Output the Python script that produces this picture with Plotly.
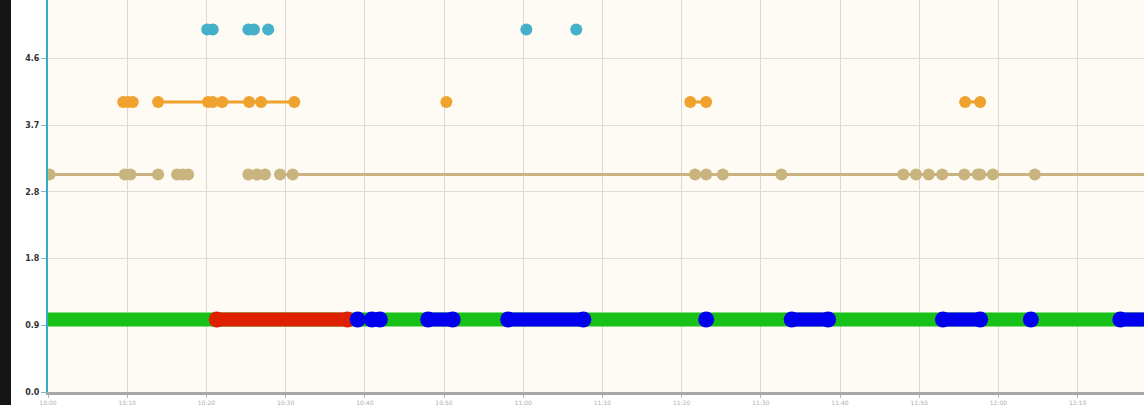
import plotly.graph_objects as go

# ---- data (x in minutes, y = state level) ----
green_x = [0, 140]
green_y = [1, 1]

red_x = [21.3, 37.8]
red_y = [1, 1]

blue_segments = [[39.1], [40.9, 41.9], [48.0, 51.1], [58.1, 67.6], [83.1],
                 [93.9, 98.5], [113.0, 117.7], [124.1], [135.4, 140]]

tan_x = [0.2, 9.7, 10.4, 13.9, 16.3, 17.0, 17.7, 25.3, 26.4, 27.4, 29.3, 30.9,
         81.7, 83.1, 85.2, 92.6, 108.0, 109.6, 111.2, 112.9, 115.7, 117.4, 117.7,
         119.3, 124.6]
tan_level = 3
tan_line_segments = [[0, 13.9], [16.3, 17.7], [25.3, 27.4], [29.3, 140]]

orange_x = [9.5, 10.1, 10.7, 13.9, 20.2, 20.8, 22.0, 25.4, 26.9, 31.1, 50.3,
            81.1, 83.1, 115.8, 117.7]
orange_level = 4
orange_line_segments = [[13.9, 31.1], [81.1, 83.1], [115.8, 117.7]]

teal_x = [20.1, 20.8, 25.3, 26.0, 27.8, 60.4, 66.7]
teal_level = 5

y_tickvals = [0, 0.92, 1.84, 2.76, 3.68, 4.6]
y_ticktext = ["0.0", "0.9", "1.8", "2.8", "3.7", "4.6"]
x_tickvals = list(range(0, 140, 10))
x_ticktext = ["%d:%02d" % (10 + v // 60, v % 60) for v in x_tickvals]

GREEN = "#17c117"
RED = "#de2000"
BLUE = "#0000ee"
TAN = "#c9b47f"
ORANGE = "#f0a22e"
TEAL = "#45b0c9"

fig = go.Figure()

def seg_xy(segs, level):
    xs, ys = [], []
    for s in segs:
        xs += s + [None]
        ys += [level] * len(s) + [None]
    return xs, ys

# green base band
fig.add_trace(go.Scatter(x=green_x, y=green_y, mode="lines",
                         line=dict(color=GREEN, width=14), hoverinfo="skip"))
# red band
fig.add_trace(go.Scatter(x=red_x, y=red_y, mode="lines+markers",
                         line=dict(color=RED, width=14),
                         marker=dict(color=RED, size=16), hoverinfo="skip"))
# blue bands
bx, by = seg_xy(blue_segments, 1)
fig.add_trace(go.Scatter(x=bx, y=by, mode="lines+markers",
                         line=dict(color=BLUE, width=14),
                         marker=dict(color=BLUE, size=16), hoverinfo="skip"))

# tan
tx, ty = seg_xy(tan_line_segments, tan_level)
fig.add_trace(go.Scatter(x=tx, y=ty, mode="lines",
                         line=dict(color=TAN, width=3), hoverinfo="skip"))
fig.add_trace(go.Scatter(x=tan_x, y=[tan_level] * len(tan_x), mode="markers",
                         marker=dict(color=TAN, size=12), hoverinfo="skip"))
# orange
ox, oy = seg_xy(orange_line_segments, orange_level)
fig.add_trace(go.Scatter(x=ox, y=oy, mode="lines",
                         line=dict(color=ORANGE, width=3), hoverinfo="skip"))
fig.add_trace(go.Scatter(x=orange_x, y=[orange_level] * len(orange_x), mode="markers",
                         marker=dict(color=ORANGE, size=12), hoverinfo="skip"))
# teal
fig.add_trace(go.Scatter(x=teal_x, y=[teal_level] * len(teal_x), mode="markers",
                         marker=dict(color=TEAL, size=12), hoverinfo="skip"))

L, B = 48, 13
plot_w = 1144 - L
fig.update_layout(
    width=1144, height=405,
    margin=dict(l=L, r=0, t=0, b=B),
    paper_bgcolor="white",
    plot_bgcolor="#fdfbf3",
    showlegend=False,
    hovermode=False,
    xaxis=dict(range=[0, (1144 - L) / 7.92], tickvals=x_tickvals, ticktext=x_ticktext,
               showgrid=True, gridcolor="#dcd9d3", gridwidth=1.3,
               zeroline=False, showline=True, linecolor="#a8a6a2", linewidth=3,
               ticks="outside", ticklen=3, tickcolor="#bdbbb6",
               tickfont=dict(family="DejaVu Sans", size=6, color="#b0aea8")),
    yaxis=dict(range=[0, 392 / 72.5], tickvals=y_tickvals,
               ticktext=["<b>%s</b>" % t for t in y_ticktext],
               showgrid=True, gridcolor="#e0ddd6", gridwidth=1.2,
               zeroline=False, showline=True, linecolor="#3aa8c6", linewidth=2,
               ticks="outside", ticklen=5, tickcolor="#7fb6c8",
               tickfont=dict(family="DejaVu Sans", size=8, color="#333333")),
    shapes=[dict(type="rect", xref="paper", yref="paper",
                 x0=-L / plot_w, x1=-(L - 11) / plot_w, y0=-B / 392, y1=1.0,
                 fillcolor="#151515", line=dict(width=0), layer="above")],
)

fig.write_html("out.html", config={"displayModeBar": False},
               post_script="document.body.style.margin='0';document.body.style.overflow='hidden';")
